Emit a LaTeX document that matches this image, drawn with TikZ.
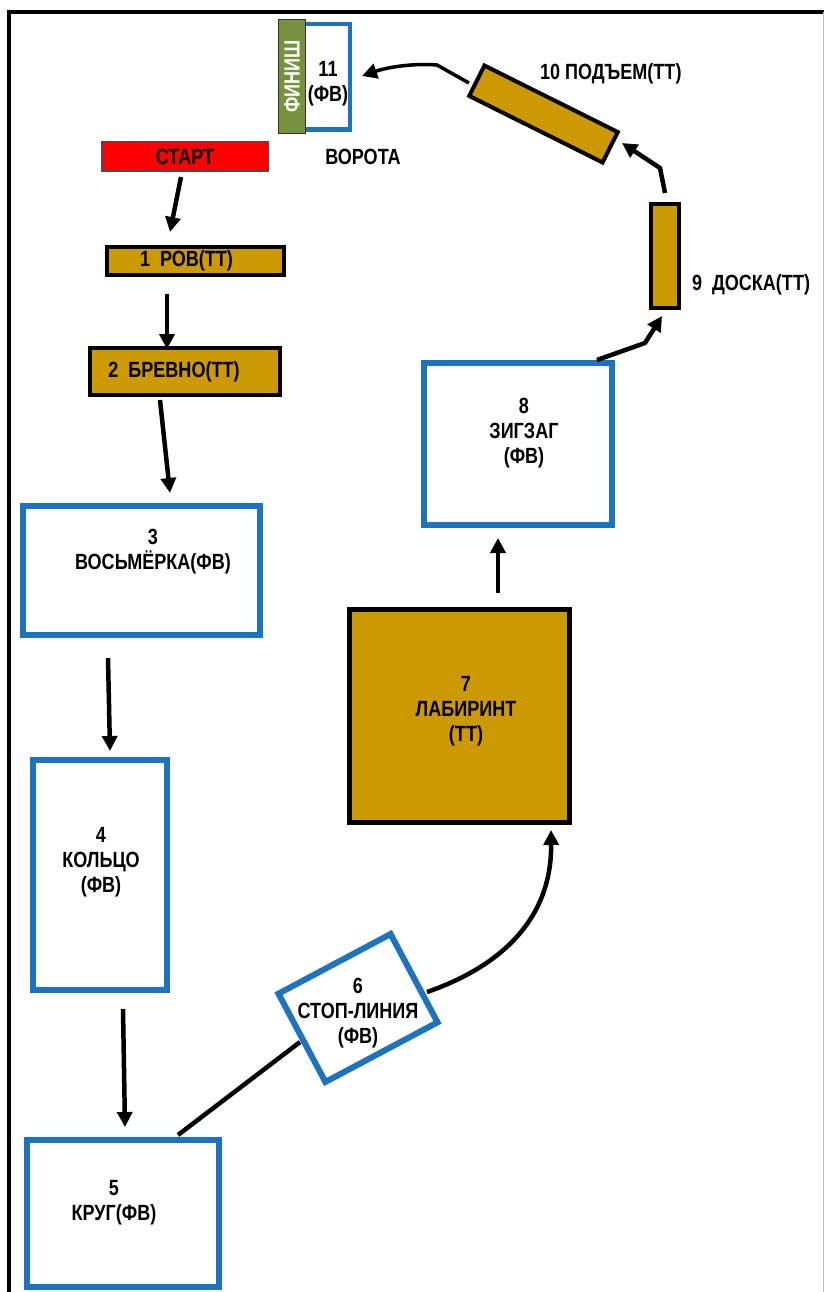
\documentclass[tikz,border=0pt]{standalone}
\usepackage{fontspec}
\setmainfont{Liberation Sans}[FakeStretch=0.82]
\usetikzlibrary{arrows.meta}
\definecolor{fvblue}{RGB}{30,115,190}
\definecolor{ttgold}{RGB}{204,153,0}
\definecolor{fingreen}{RGB}{118,146,60}
\definecolor{startred}{RGB}{255,0,0}
\begin{document}
\begin{tikzpicture}[x=1pt,y=-1pt,
  every node/.style={font=\fontsize{22}{25}\selectfont\bfseries, inner sep=0pt, outer sep=0pt},
  fv/.style={draw=fvblue, line width=6pt, fill=white},
  tt/.style={draw=black, line width=4pt, fill=ttgold},
  arr/.style={line width=4.5pt, line join=round, -{Triangle[length=15pt,width=15pt]}},
  lbl/.style={align=center}]
\useasboundingbox (0,0) rectangle (824,1292);
% frame
\draw[line width=4pt] (9,1292) -- (9,12) -- (824,12);
\draw[line width=1pt, black!25] (823,12) -- (823,1292);
% 11 / finish
\node[fv, line width=4.5pt, minimum width=69.5, minimum height=105.5] (b11) at (315,77) {};
\node[draw=black!80, line width=1.5pt, fill=fingreen, text=white, rotate=90, minimum width=114, minimum height=27] (fin) at (292,76.5) {ФИНИШ};
\node[lbl] (t11) at (328,84) {11\\(ФВ)};
\node (vor) at (363,157) {ВОРОТА};
% start
\node[draw=black!70, line width=1.5pt, fill=startred, minimum width=166.5, minimum height=29.5] (start) at (185,156.5) {СТАРТ};
% 1, 2
\node[tt, minimum width=177, minimum height=28] (b1) at (195.5,261) {\hspace*{-18pt}1\ \ РОВ(ТТ)};
\node[tt, minimum width=190, minimum height=47] (b2) at (185,371.5) {\hspace*{-22pt}2\ \ БРЕВНО(ТТ)};
% 3, 4, 5
\node[fv, minimum width=237, minimum height=129] (b3) at (141.5,570.5) {};
\node[lbl] (t3) at (153,552) {3\\ВОСЬМЁРКА(ФВ)};
\node[fv, minimum width=134, minimum height=230] (b4) at (100,875) {};
\node[lbl] (t4) at (101,862) {4\\КОЛЬЦО\\(ФВ)};
\node[fv, minimum width=192, minimum height=147] (b5) at (123,1213.5) {};
\node[lbl] (t5) at (114,1203) {5\\КРУГ(ФВ)};
% 6
\node[fv, rotate=28, minimum width=127, minimum height=100] (b6) at (358,1008) {};
\node[lbl] (t6) at (358,1013) {6\\СТОП-ЛИНИЯ\\(ФВ)};
% 7, 8
\node[tt, line width=5pt, minimum width=220, minimum height=213] (b7) at (459.5,716) {};
\node[lbl] (t7) at (466,711) {7\\ЛАБИРИНТ\\(ТТ)};
\node[fv, minimum width=188, minimum height=162] (b8) at (518,444) {};
\node[lbl] (t8) at (524,433) {8\\ЗИГЗАГ\\(ФВ)};
% 9, 10
\node[tt, minimum width=28, minimum height=104] (b9) at (665,256) {};
\node[anchor=base west] (t9) at (692,290) {9\ \ ДОСКА(ТТ)};
\node[tt, rotate=-26.5, minimum width=149, minimum height=34] (b10) at (543.5,114) {};
\node[anchor=base west] (t10) at (540,80) {10 ПОДЪЕМ(ТТ)};
% connectors
\draw[arr] ([shift={(-4,20.5)}]start.center) -- ([shift={(-25.5,-29)}]b1.center);
\draw[arr] ([shift={(-28.5,33)}]b1.center) -- ([shift={(-18,-22.5)}]b2.center);
\draw[arr] ([shift={(-25,28.5)}]b2.center) -- ([shift={(28.5,-77.5)}]b3.center);
\draw[arr] ([shift={(-33.5,87.5)}]b3.center) -- ([shift={(10,-124)}]b4.center);
\draw[arr] ([shift={(23,134)}]b4.center) -- ([shift={(2,-86.5)}]b5.center);
\draw[line width=4.5pt] ([shift={(55,-78.5)}]b5.center) -- ([shift={(-58,34)}]b6.center);
\draw[arr] ([shift={(69,-16)}]b6.center) .. controls (485,972) and (552,930) .. ([shift={(91.5,114)}]b7.center);
\draw[arr] ([shift={(38.5,-123)}]b7.center) -- ([shift={(-20,94)}]b8.center);
\draw[arr] ([shift={(79,-84)}]b8.center) -- (645,343) -- ([shift={(-3,60)}]b9.center);
\draw[arr] ([shift={(0,-63)}]b9.center) -- (660,168) -- ([shift={(78.5,29)}]b10.center);
\draw[arr, line width=3.5pt] ([shift={(-74.5,-31)}]b10.center) -- (437,65) .. controls (410,63) and (385,68) .. ([shift={(47,-1)}]b11.center);
\end{tikzpicture}
\end{document}
